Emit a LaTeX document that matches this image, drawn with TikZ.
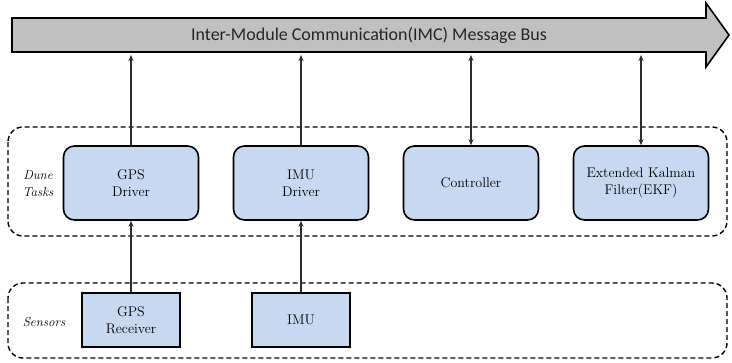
\documentclass[tikz,border=0pt]{standalone}
\usepackage{fontspec}
\newfontfamily\busfont{Carlito}
\usetikzlibrary{arrows.meta,positioning}
\definecolor{sky}{RGB}{198,217,240}
\definecolor{steel}{RGB}{192,192,192}
\definecolor{ink}{RGB}{45,45,45}
\tikzset{
  >={Stealth[length=6pt,width=5pt]},
  task/.style={draw=black,fill=sky,rounded corners=11pt,line width=1.6pt,
    minimum width=135pt,minimum height=74pt,align=center,
    font=\rmfamily\fontsize{14}{17}\selectfont\addfontfeatures{FakeBold=1.3}},
  sensor/.style={draw=black,fill=sky,line width=1.6pt,
    minimum width=98pt,minimum height=54pt,align=center,
    font=\rmfamily\fontsize{14}{17}\selectfont\addfontfeatures{FakeBold=1.3}},
  group/.style={draw=black,line width=1.4pt,dash pattern=on 5pt off 3pt,rounded corners=15pt},
  flow/.style={draw=ink,line width=1.7pt},
  tag/.style={font=\rmfamily\itshape\fontsize{13}{17}\selectfont\addfontfeatures{FakeBold=1.3},align=center},
  bus/.style={draw=black,fill=steel,line width=1.6pt,line join=miter},
}
\begin{document}
\begin{tikzpicture}[x=1pt,y=-1pt]
  \useasboundingbox (0,0) rectangle (732,362);
  % message bus
  \draw[bus] (12,18) -- (706,18) -- (706,3) -- (729,35) -- (706,67) -- (706,52) -- (12,52) -- cycle;
  \node[font=\busfont\fontsize{18}{21}\selectfont,text=black!85] (bus) at (369,35)
    {Inter-Module Communication(IMC) Message Bus};
  \coordinate (busbot) at (0,55);
  % groups
  \draw[group] (8,127) rectangle (727,236);
  \draw[group] (8,283) rectangle (727,358);
  \node[tag] (dune) at (38,184) {Dune\\Tasks};
  \node[tag] (sens) at (44,322) {Sensors};
  % tasks
  \foreach \n/\x/\t in {gpsdrv/131/GPS\\Driver,imudrv/301/IMU\\Driver,
      ctrl/471/Controller,ekf/641/Extended Kalman\\Filter(EKF)}
    \node[task] (\n) at (\x,183) {\t};
  % sensors
  \node[sensor] (gpsrx) at (131,320) {GPS\\Receiver};
  \node[sensor] (imu) at (301,320) {IMU};
  % links
  \draw[flow,->] (gpsdrv.north) -- (gpsdrv.north |- busbot);
  \draw[flow,->] (imudrv.north) -- (imudrv.north |- busbot);
  \draw[flow,<->] (ctrl.north) -- (ctrl.north |- busbot);
  \draw[flow,<->] (ekf.north) -- (ekf.north |- busbot);
  \draw[flow,->] (gpsrx.north) -- (gpsdrv.south);
  \draw[flow,->] (imu.north) -- (imudrv.south);
\end{tikzpicture}
\end{document}
